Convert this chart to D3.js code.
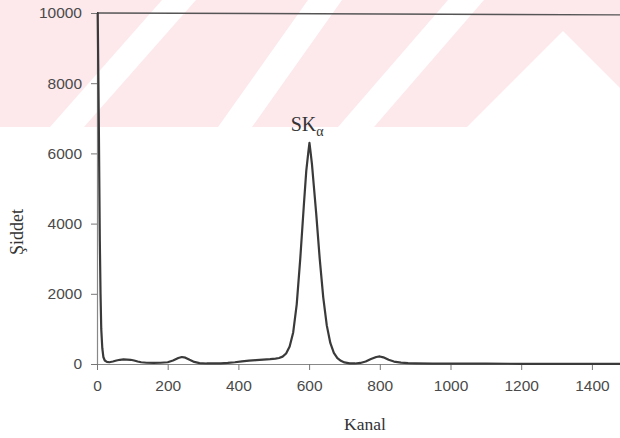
<!DOCTYPE html>
<html>
<head>
<meta charset="utf-8">
<script src="https://cdn.jsdelivr.net/npm/d3@7"></script>
<style>
  html, body { margin: 0; padding: 0; background: #fff; overflow: hidden; }
  svg { display: block; }
</style>
</head>
<body>
<svg id="chart" width="620" height="438"></svg>
<script>
// Spectrum: channel number and counts
const channels = [0, 2, 5, 8, 10, 12, 15, 18, 22, 28, 35, 45, 55, 65, 75, 85, 95, 105, 115, 125,
  140, 160, 180, 200, 215, 230, 240, 250, 262, 275, 290, 310, 330, 350, 370, 390, 410, 430, 450,
  470, 490, 505, 515, 525, 535, 545, 555, 565, 575, 585, 592, 598, 601, 604, 608, 614, 620, 630, 640,
  650, 660, 670, 680, 690, 700, 715, 730, 745, 760, 775, 790, 800, 810, 825, 840, 860, 880, 900,
  950, 1000, 1100, 1200, 1300, 1400, 1500, 1600];
const counts = [10000, 10000, 7000, 3500, 2000, 1000, 450, 200, 100, 60, 50, 70, 100, 120, 130, 125,
  120, 100, 70, 50, 35, 30, 35, 50, 100, 170, 200, 180, 120, 60, 25, 15, 15, 20, 30, 50, 75, 95,
  110, 125, 140, 155, 170, 210, 300, 500, 900, 1700, 3000, 4500, 5500, 6050, 6300, 6050, 5700,
  5000, 4300, 3000, 1900, 1100, 600, 320, 170, 90, 45, 20, 15, 30, 70, 140, 200, 215, 190, 120,
  70, 40, 25, 20, 12, 10, 8, 6, 5, 4, 3, 3];

const xTicks = [0, 200, 400, 600, 800, 1000, 1200, 1400];
const yTicks = [0, 2000, 4000, 6000, 8000, 10000];
const peakLabel = { main: "SK", sub: "α", channel: 600 };
const xTitle = "Kanal";
const yTitle = "Şiddet";

const svg = d3.select("#chart");

// Background banner with diagonal white cut-outs
const banner = svg.append("g");
banner.append("rect").attr("x", 0).attr("y", 0).attr("width", 620).attr("height", 127)
  .attr("fill", "#fde8ec");
const cuts = [
  [[50, 127], [84, 127], [196, 0], [162, 0]],
  [[218, 127], [252, 127], [342, 0], [308, 0]],
  [[338, 127], [374, 127], [484, 0], [448, 0]],
  [[467, 127], [563, 31], [659, 127]]
];
banner.selectAll("polygon").data(cuts).join("polygon")
  .attr("points", d => d.map(p => p.join(",")).join(" "))
  .attr("fill", "#ffffff");

const x = d3.scaleLinear().domain([0, 1600]).range([97, 97 + 1600 * 0.3535]);
const y = d3.scaleLinear().domain([0, 10000]).range([364, 13]);

const tickFont = "'Liberation Sans', Arial, sans-serif";
const serif = "'Liberation Serif', 'Times New Roman', serif";

// Y axis
const yAxis = svg.append("g").attr("transform", `translate(${x(0)},0)`)
  .call(d3.axisLeft(y).tickValues(yTicks).tickSize(6).tickPadding(9).tickFormat(d3.format("d")));
yAxis.select(".domain").attr("stroke", "#888").attr("stroke-width", 1.2);
yAxis.selectAll(".tick line").attr("stroke", "#777");
yAxis.selectAll(".tick text").attr("font-family", tickFont).attr("font-size", 15.5)
  .attr("fill", "#4a4a4a");

// X axis (runs on past the right edge of the page)
const xAxis = svg.append("g").attr("transform", `translate(0,${y(0)})`)
  .call(d3.axisBottom(x).tickValues(xTicks).tickSize(6).tickSizeOuter(0).tickPadding(10)
    .tickFormat(d3.format("d")));
xAxis.select(".domain").attr("stroke", "#888").attr("stroke-width", 1.2);
xAxis.selectAll(".tick line").attr("stroke", "#777");
xAxis.selectAll(".tick text").attr("font-family", tickFont).attr("font-size", 15.5)
  .attr("fill", "#4a4a4a");

// Plot area top edge
svg.append("line")
  .attr("x1", x(0)).attr("x2", x(1600))
  .attr("y1", y(10000)).attr("y2", y(10000) + 2)
  .attr("stroke", "#555").attr("stroke-width", 1.4);

// Spectrum line
const pts = channels.map((c, i) => [c, counts[i]]);
svg.append("path")
  .datum(pts)
  .attr("fill", "none")
  .attr("stroke", "#3a3a3a")
  .attr("stroke-width", 2.2)
  .attr("stroke-linejoin", "round")
  .attr("d", d3.line().x(d => x(d[0])).y(d => y(d[1])).curve(d3.curveLinear));

// Peak label
const lbl = svg.append("text")
  .attr("x", x(peakLabel.channel) - 2).attr("y", 131)
  .attr("text-anchor", "middle")
  .attr("font-family", serif).attr("font-size", 20).attr("fill", "#333");
lbl.append("tspan").text(peakLabel.main);
lbl.append("tspan").attr("dy", 5).attr("font-size", 14).text(peakLabel.sub);

// Axis titles
svg.append("text")
  .attr("x", 365).attr("y", 430)
  .attr("text-anchor", "middle")
  .attr("font-family", serif).attr("font-size", 17.5).attr("fill", "#333")
  .text(xTitle);

svg.append("text")
  .attr("transform", "translate(23,232) rotate(-90)")
  .attr("text-anchor", "middle")
  .attr("font-family", serif).attr("font-size", 18).attr("fill", "#333")
  .text(yTitle);
</script>
</body>
</html>
